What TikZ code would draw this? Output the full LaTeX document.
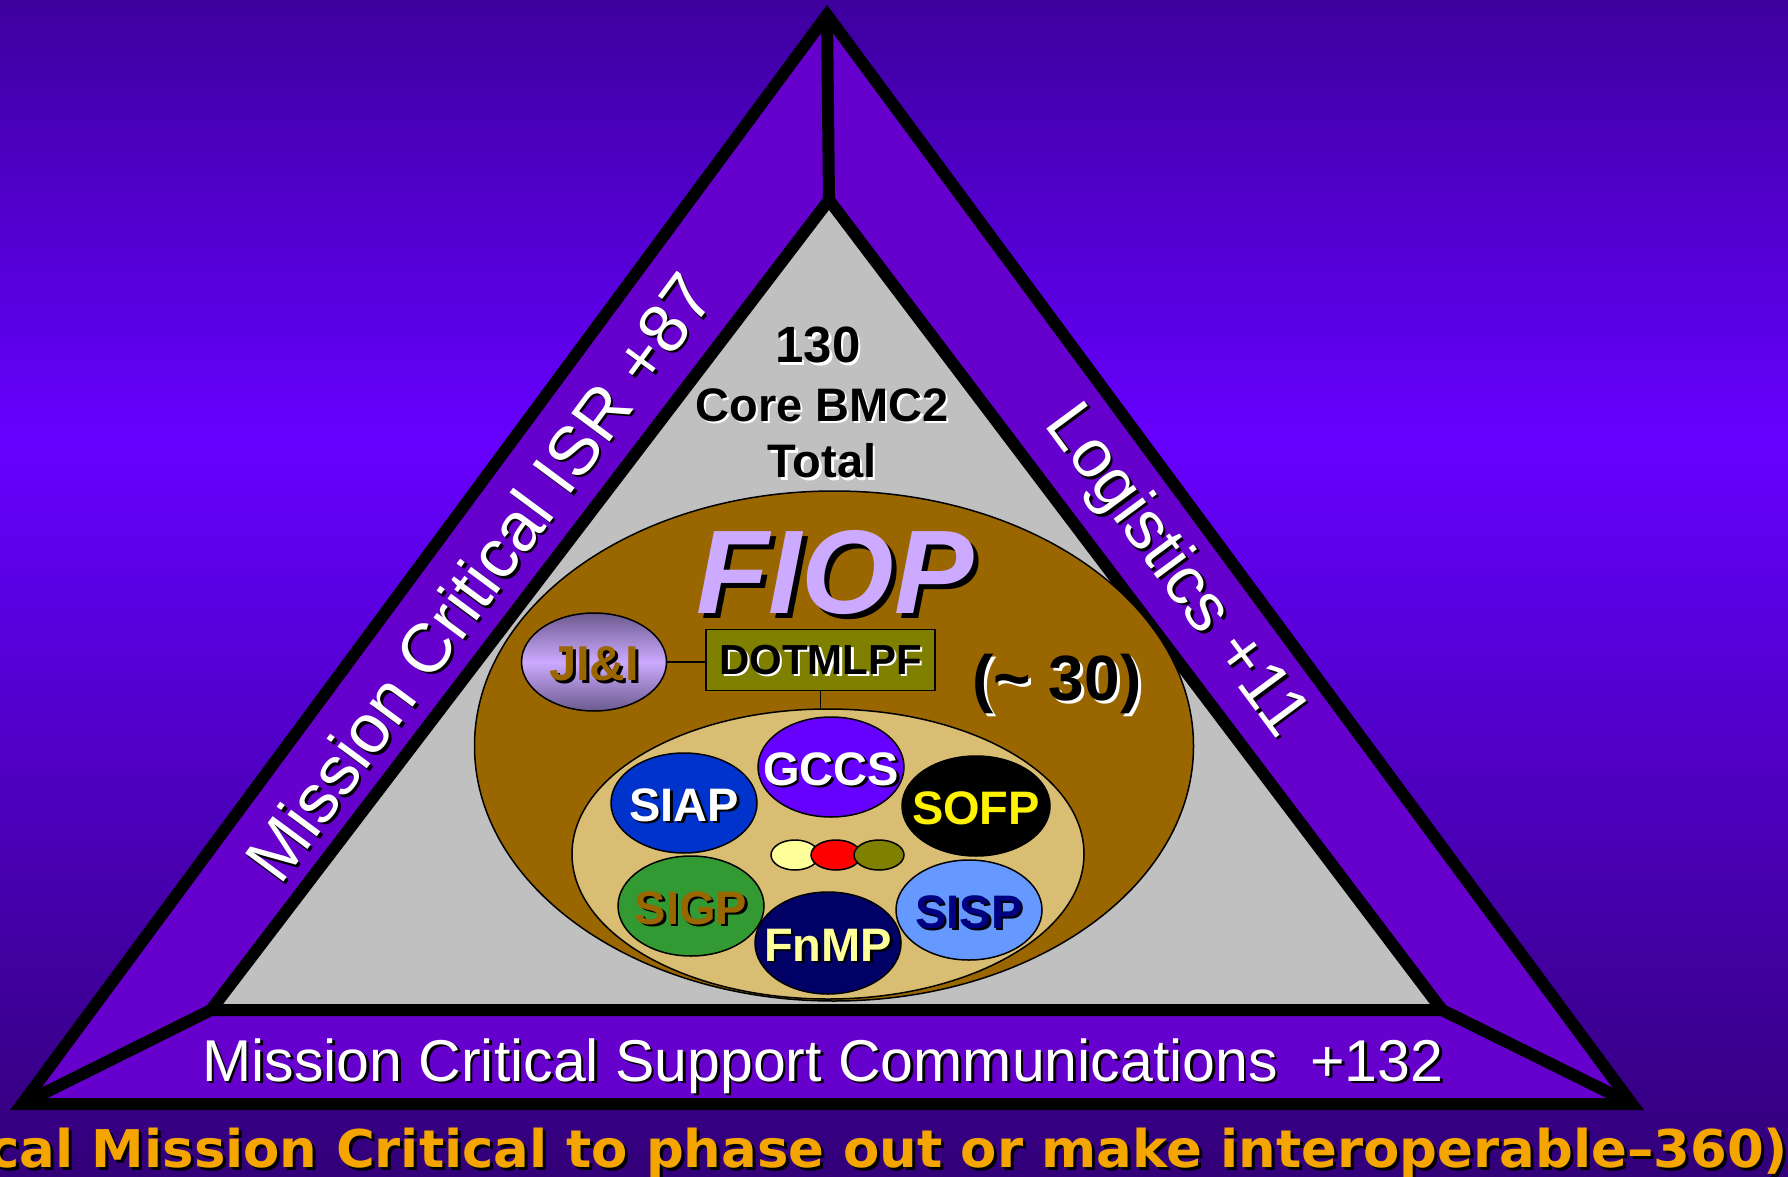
\documentclass[tikz,border=0pt]{standalone}
\usepackage{fontspec}
\setmainfont{Liberation Sans}
\newfontfamily\verd{DejaVu Sans}
\usetikzlibrary{shapes.geometric,calc}
\definecolor{bgtop}{RGB}{62,0,158}
\definecolor{bgmid}{RGB}{102,0,255}
\definecolor{bgbot}{RGB}{50,0,120}
\definecolor{band}{RGB}{102,0,204}
\definecolor{core}{RGB}{192,192,192}
\definecolor{fiopbrown}{RGB}{153,102,0}
\definecolor{tanc}{RGB}{217,189,115}
\definecolor{lav}{RGB}{204,170,255}
\definecolor{lavdark}{RGB}{108,90,142}
\definecolor{olivec}{RGB}{128,128,0}
\definecolor{gccsc}{RGB}{102,0,255}
\definecolor{siapc}{RGB}{0,51,204}
\definecolor{sigpc}{RGB}{51,153,51}
\definecolor{fnmpc}{RGB}{0,0,102}
\definecolor{sispc}{RGB}{102,153,255}
\definecolor{navyc}{RGB}{0,0,128}
\definecolor{paleyel}{RGB}{255,255,153}
\definecolor{orangetxt}{RGB}{245,165,0}
\newcommand\fsz[1]{\fontsize{#1pt}{#1pt}\selectfont}
\newcommand\bottomline{\scalebox{1.017}[1]{cal Mission Critical to phase out or make interoperable–360)}}
% name, position, shadow offset, options, text colour, shadow colour, text
\newcommand\stext[7]{%
  \node[#4,text=#6] at ($#2+(#3,#3)$) {#7};
  \node[#4,text=#5] (#1) at #2 {#7};}
\tikzset{
  lbl/.style={inner sep=0pt},
  tri/.style={line width=12pt,line join=miter},
  ell/.style={ellipse,draw=black,line width=1.5pt,inner sep=0pt},
  small/.style={ell,minimum width=146pt,minimum height=100pt},
  dot/.style={ell,minimum height=30pt},
}
\begin{document}
\begin{tikzpicture}[x=1pt,y=-1pt]
\useasboundingbox (0,0) rectangle (1788,1177);
\clip (0,0) rectangle (1788,1177);
% background
\shade[top color=bgtop,bottom color=bgmid] (0,0) rectangle (1788,440.5);
\shade[top color=bgmid,bottom color=bgbot] (0,440) rectangle (1788,1177);
% triangle
\coordinate (A) at (827,15);
\coordinate (L) at (22,1104);
\coordinate (R) at (1632,1104);
\coordinate (a) at (829,200);
\coordinate (b) at (211,1010);
\coordinate (c) at (1442,1010);
\fill[band] (A)--(L)--(R)--cycle;
\fill[core] (a)--(b)--(c)--cycle;
\draw[tri] (A)--(L)--(R)--cycle;
\draw[tri] (a)--(b)--(c)--cycle;
\draw[tri] (A)--(a) (b)--(L) (c)--(R);
% band texts
\stext{isr}{(479,577)}{2.5}{lbl,rotate=53.5,font=\fsz{69}}{white}{black}{Mission Critical ISR +87}
\stext{log}{(1175,572)}{2.5}{lbl,rotate=-53.5,font=\fsz{68}}{white}{black}{Logistics +11}
\stext{comm}{(823,1066)}{2.5}{lbl,font=\fsz{59}}{white}{black}{Mission Critical Support Communications~~+132}
% core texts
\stext{n130}{(818,345)}{2.5}{lbl,font=\fsz{51}\bfseries}{black}{white}{130}
\stext{corebmc}{(822,405)}{2.5}{lbl,font=\fsz{47}\bfseries}{black}{white}{Core BMC2}
\stext{total}{(822,461)}{2.5}{lbl,font=\fsz{47}\bfseries}{black}{white}{Total}
% FIOP ellipse
\node[ell,fill=fiopbrown,minimum width=719pt,minimum height=510pt] (fiopell) at (834,746) {};
\stext{fiop}{(835,573)}{5}{lbl,font=\fsz{119}\bfseries\itshape}{lav}{black}{FIOP}
% JI&I
\node[ell,top color=lavdark,bottom color=lavdark,middle color=lav,minimum width=145pt,minimum height=98pt] (jii) at (594,662) {};
\stext{jiitxt}{(594,664)}{3}{lbl,font=\fsz{49}\bfseries}{fiopbrown}{black}{JI\&I}
% DOTMLPF
\node[draw=black,line width=1.5pt,fill=olivec,minimum width=229pt,minimum height=61pt,inner sep=0pt] (dotm) at (820.5,660) {};
\stext{dottxt}{(820.5,660)}{2.5}{lbl,font=\fsz{42}\bfseries}{black}{white}{DOTMLPF}
\stext{thirty}{(1057,684)}{3}{lbl,font=\fsz{64}\bfseries}{black}{white}{(\textasciitilde{} 30)}
% inner tan ellipse
\node[ell,fill=tanc,minimum width=512pt,minimum height=290pt] (tanell) at (828,854) {};
\draw[line width=1.5pt] (jii.east) -- (jii.east -| dotm.west);
\draw[line width=1.5pt] (dotm.south) -- (dotm.south |- tanell.north);
% program ellipses
\node[small,fill=siapc] (siap) at (684,803) {};
\node[small,fill=gccsc] (gccs) at (831,767) {};
\node[small,fill=black,minimum width=148pt] (sofp) at (976,806) {};
\node[small,fill=sigpc] (sigp) at (691,906) {};
\node[small,fill=fnmpc,minimum height=102pt] (fnmp) at (828,943) {};
\node[small,fill=sispc] (sisp) at (969,910) {};
\node[dot,fill=paleyel,minimum width=48pt] (d1) at (795,855) {};
\node[dot,fill=red,minimum width=50pt] (d2) at (836,855) {};
\node[dot,fill=olivec,minimum width=50pt] (d3) at (879,855) {};
\stext{siapt}{(684,805)}{2.5}{lbl,font=\fsz{47}\bfseries}{white}{black}{SIAP}
\stext{gccst}{(831,769)}{2.5}{lbl,font=\fsz{47}\bfseries}{white}{black}{GCCS}
\stext{sofpt}{(976,808)}{2.5}{lbl,font=\fsz{47}\bfseries}{yellow}{black}{SOFP}
\stext{sigpt}{(691,908)}{2.5}{lbl,font=\fsz{47}\bfseries}{fiopbrown}{black}{SIGP}
\stext{fnmpt}{(828,945)}{2.5}{lbl,font=\fsz{47}\bfseries}{paleyel}{black}{FnMP}
\stext{sispt}{(969,912)}{2.5}{lbl,font=\fsz{47}\bfseries}{navyc}{black}{SISP}
% bottom orange line
\node[lbl,anchor=base west,text=black,font=\verd\bfseries\fsz{52}] at (-9,1170) {\bottomline};
\node[lbl,anchor=base west,text=orangetxt,font=\verd\bfseries\fsz{52}] (total360) at (-12,1167) {\bottomline};
\end{tikzpicture}
\end{document}
